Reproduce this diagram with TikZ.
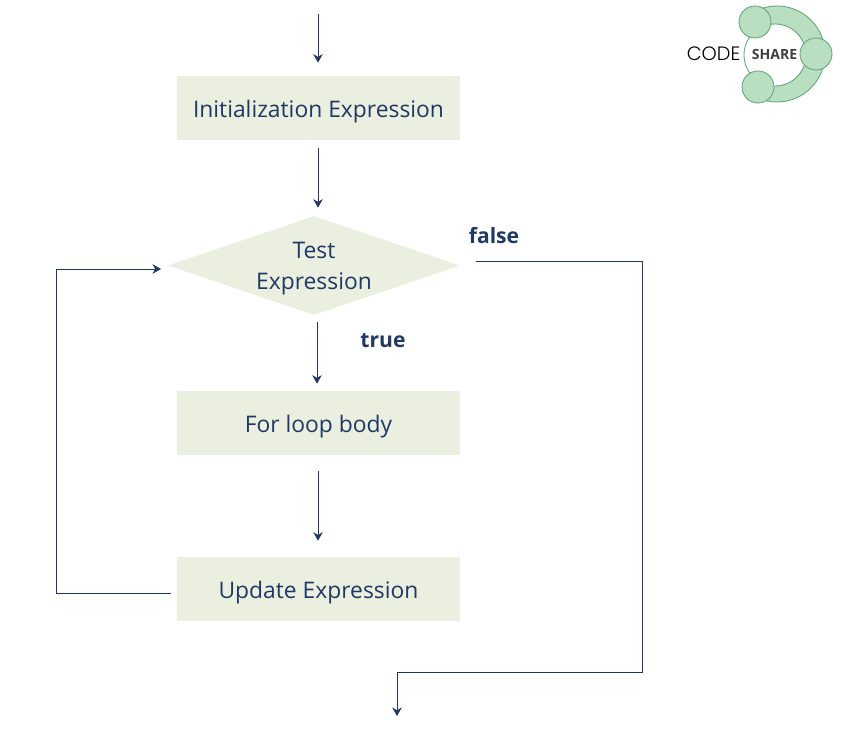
\documentclass[tikz,border=0pt]{standalone}
\usepackage{fontspec}
\setmainfont{Open Sans}
\newfontfamily\logofont{Poppins Light}
\usetikzlibrary{arrows.meta,shapes.geometric}
\definecolor{navy}{RGB}{31,56,100}
\definecolor{sage}{RGB}{235,239,223}
\definecolor{mint}{RGB}{185,223,192}
\definecolor{leaf}{RGB}{98,168,124}
\tikzset{
  >={Stealth[length=1.7mm,width=1.9mm]},
  stepbox/.style={fill=sage,text=navy,minimum width=5.66cm,minimum height=1.28cm,
    inner sep=0pt,text height=11pt,text depth=0.6pt,font=\fontsize{13}{15}\selectfont,align=center},
  testbox/.style={diamond,aspect=2.95,fill=sage,text=navy,minimum width=5.84cm,minimum height=1.98cm,
    inner sep=-3pt,font=\fontsize{13}{17.5}\selectfont,align=center},
  flow/.style={draw=navy,line width=0.4pt},
  tag/.style={text=navy,inner sep=0pt,font=\fontsize{12}{14}\selectfont\bfseries},
  blob/.style={circle,fill=mint,draw=leaf,line width=0.5pt,minimum size=0.64cm,inner sep=0pt},
}
\begin{document}
\begin{tikzpicture}[x=0.02cm,y=-0.02cm]
  \useasboundingbox (0,0) rectangle (861,736);
  % flow chart
  \node[stepbox] (init) at (318.5,108) {Initialization Expression};
  \node[testbox] (test) at (314,265.5) {\rule{0pt}{13pt}Test\\Expression};
  \node[stepbox] (body) at (318.5,423) {For loop body};
  \node[stepbox] (update) at (318.5,589) {Update Expression};
  \node[tag] (false) at (494,235.5) {false};
  \node[tag] (true) at (383,341) {true};
  \coordinate (start) at (318,14);
  \coordinate (updateout) at (177,593);
  \coordinate (loopin) at (56.5,269);
  \coordinate (testin) at (168,269);
  \coordinate (testout) at (460,261);
  \coordinate (falsecorner) at (642,672);
  \coordinate (exit) at (397,716);
  \draw[flow,->,shorten >=0.26cm] (start) -- (start |- init.north);
  \draw[flow,->,shorten <=0.16cm,shorten >=0.16cm] (start |- init.south) -- (start |- test.north);
  \draw[flow,->,shorten <=0.14cm,shorten >=0.14cm] (317,0 |- test.south) -- (317,0 |- body.north);
  \draw[flow,->,shorten <=0.32cm,shorten >=0.32cm] (start |- body.south) -- (start |- update.north);
  \draw[flow,->,shorten <=0.12cm,shorten >=0.14cm] (updateout) -- (loopin |- updateout) -- (loopin) -- (testin);
  \draw[flow,->,shorten <=0.32cm] (testout) -- (falsecorner |- testout) -- (falsecorner) -- (exit |- falsecorner) -- (exit);
  % logo
  \fill[mint,draw=leaf,line width=0.5pt,even odd rule] (777,54) circle (48) (775,55) circle (31);
  \fill[white] (700,-5) rectangle (752,110);
  \draw[leaf,line width=0.5pt] (775,55) ++(135:31) arc (135:225:31);
  \node[blob] (ringtop) at (755,22) {};
  \node[blob] (ringright) at (816,54) {};
  \node[blob] (ringbottom) at (758,87) {};
  \node[text=black,inner sep=0pt,font=\logofont\fontsize{11}{12}\selectfont] (code) at (713.5,54) {CODE};
  \node[text=black!75,inner sep=0pt,font=\fontsize{8}{10}\selectfont\bfseries] (share) at (774.5,54) {SHARE};
\end{tikzpicture}
\end{document}
